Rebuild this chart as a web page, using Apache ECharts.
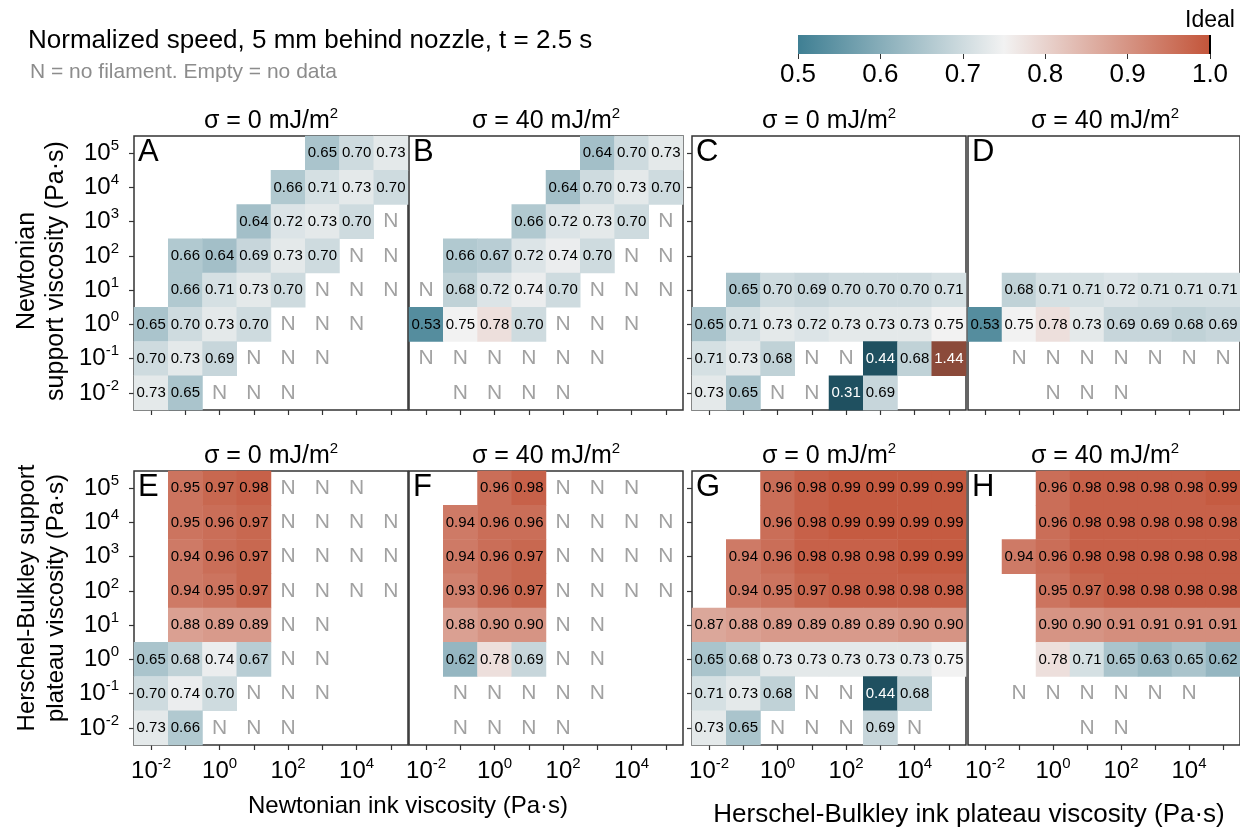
<!DOCTYPE html>
<html>
<head>
<meta charset="utf-8">
<script src="https://cdn.jsdelivr.net/npm/echarts@6/dist/echarts.min.js"></script>
<style>
html,body{margin:0;padding:0;background:#fff;}
#chart{width:1240px;height:827px;}
</style>
</head>
<body>
<div id="chart"></div>
<script>
const _ = null;
// exponents of the log10 viscosity categories (both axes)
const exponents = [-2, -1, 0, 1, 2, 3, 4, 5];
const colorbarTicks = [0.5, 0.6, 0.7, 0.8, 0.9, 1.0];

// rows listed top (support 10^5) to bottom (10^-2); columns ink 10^-2 .. 10^5
const panelA = [
  [_, _, _, _, _, 0.65, 0.70, 0.73],
  [_, _, _, _, 0.66, 0.71, 0.73, 0.70],
  [_, _, _, 0.64, 0.72, 0.73, 0.70, 'N'],
  [_, 0.66, 0.64, 0.69, 0.73, 0.70, 'N', 'N'],
  [_, 0.66, 0.71, 0.73, 0.70, 'N', 'N', 'N'],
  [0.65, 0.70, 0.73, 0.70, 'N', 'N', 'N', _],
  [0.70, 0.73, 0.69, 'N', 'N', 'N', _, _],
  [0.73, 0.65, 'N', 'N', 'N', _, _, _]
];
const panelB = [
  [_, _, _, _, _, 0.64, 0.70, 0.73],
  [_, _, _, _, 0.64, 0.70, 0.73, 0.70],
  [_, _, _, 0.66, 0.72, 0.73, 0.70, 'N'],
  [_, 0.66, 0.67, 0.72, 0.74, 0.70, 'N', 'N'],
  ['N', 0.68, 0.72, 0.74, 0.70, 'N', 'N', 'N'],
  [0.53, 0.75, 0.78, 0.70, 'N', 'N', 'N', _],
  ['N', 'N', 'N', 'N', 'N', 'N', _, _],
  [_, 'N', 'N', 'N', 'N', _, _, _]
];
const panelC = [
  [_, _, _, _, _, _, _, _],
  [_, _, _, _, _, _, _, _],
  [_, _, _, _, _, _, _, _],
  [_, _, _, _, _, _, _, _],
  [_, 0.65, 0.70, 0.69, 0.70, 0.70, 0.70, 0.71],
  [0.65, 0.71, 0.73, 0.72, 0.73, 0.73, 0.73, 0.75],
  [0.71, 0.73, 0.68, 'N', 'N', 0.44, 0.68, 1.44],
  [0.73, 0.65, 'N', 'N', 0.31, 0.69, _, _]
];
const panelD = [
  [_, _, _, _, _, _, _, _],
  [_, _, _, _, _, _, _, _],
  [_, _, _, _, _, _, _, _],
  [_, _, _, _, _, _, _, _],
  [_, 0.68, 0.71, 0.71, 0.72, 0.71, 0.71, 0.71],
  [0.53, 0.75, 0.78, 0.73, 0.69, 0.69, 0.68, 0.69],
  [_, 'N', 'N', 'N', 'N', 'N', 'N', 'N'],
  [_, _, 'N', 'N', 'N', _, _, _]
];
const panelE = [
  [_, 0.95, 0.97, 0.98, 'N', 'N', 'N', _],
  [_, 0.95, 0.96, 0.97, 'N', 'N', 'N', 'N'],
  [_, 0.94, 0.96, 0.97, 'N', 'N', 'N', 'N'],
  [_, 0.94, 0.95, 0.97, 'N', 'N', 'N', 'N'],
  [_, 0.88, 0.89, 0.89, 'N', 'N', _, _],
  [0.65, 0.68, 0.74, 0.67, 'N', 'N', _, _],
  [0.70, 0.74, 0.70, 'N', 'N', 'N', _, _],
  [0.73, 0.66, 'N', 'N', 'N', _, _, _]
];
const panelF = [
  [_, _, 0.96, 0.98, 'N', 'N', 'N', _],
  [_, 0.94, 0.96, 0.96, 'N', 'N', 'N', 'N'],
  [_, 0.94, 0.96, 0.97, 'N', 'N', 'N', 'N'],
  [_, 0.93, 0.96, 0.97, 'N', 'N', 'N', 'N'],
  [_, 0.88, 0.90, 0.90, 'N', 'N', _, _],
  [_, 0.62, 0.78, 0.69, 'N', 'N', _, _],
  [_, 'N', 'N', 'N', 'N', 'N', _, _],
  [_, 'N', 'N', 'N', 'N', _, _, _]
];
const panelG = [
  [_, _, 0.96, 0.98, 0.99, 0.99, 0.99, 0.99],
  [_, _, 0.96, 0.98, 0.99, 0.99, 0.99, 0.99],
  [_, 0.94, 0.96, 0.98, 0.98, 0.98, 0.99, 0.99],
  [_, 0.94, 0.95, 0.97, 0.98, 0.98, 0.98, 0.98],
  [0.87, 0.88, 0.89, 0.89, 0.89, 0.89, 0.90, 0.90],
  [0.65, 0.68, 0.73, 0.73, 0.73, 0.73, 0.73, 0.75],
  [0.71, 0.73, 0.68, 'N', 'N', 0.44, 0.68, _],
  [0.73, 0.65, 'N', 'N', 'N', 0.69, 'N', _]
];
const panelH = [
  [_, _, 0.96, 0.98, 0.98, 0.98, 0.98, 0.99],
  [_, _, 0.96, 0.98, 0.98, 0.98, 0.98, 0.98],
  [_, 0.94, 0.96, 0.98, 0.98, 0.98, 0.98, 0.98],
  [_, _, 0.95, 0.97, 0.98, 0.98, 0.98, 0.98],
  [_, _, 0.90, 0.90, 0.91, 0.91, 0.91, 0.91],
  [_, _, 0.78, 0.71, 0.65, 0.63, 0.65, 0.62],
  [_, 'N', 'N', 'N', 'N', 'N', 'N', _],
  [_, _, _, 'N', 'N', _, _, _]
];

const panelLetters = ['A', 'B', 'C', 'D', 'E', 'F', 'G', 'H'];
const panelSigma = ['0', '40', '0', '40', '0', '40', '0', '40'];
const panelData = [panelA, panelB, panelC, panelD, panelE, panelF, panelG, panelH];

// ---- styling / layout ----
const FONT = '"Liberation Sans", Arial, Helvetica, sans-serif';
const LOW = [63, 127, 147], MID = [242, 242, 242], HIGH = [195, 85, 58];
const UNDER = [31, 80, 96], OVER = [139, 74, 58];
const lefts = [134, 409, 692, 968];
const tops = [136, 471];
const SIZE = 274;

function rgb(c) { return 'rgb(' + c.map(Math.round).join(',') + ')'; }
function mix(a, b, t) { return a.map((v, i) => v + (b[i] - v) * t); }
function paletteColor(v) {
  if (v < 0.5 - 1e-9) return rgb(UNDER);
  if (v > 1.0 + 1e-9) return rgb(OVER);
  if (v <= 0.75) return rgb(mix(LOW, MID, (v - 0.5) / 0.25));
  return rgb(mix(MID, HIGH, (v - 0.75) / 0.25));
}
const VMIN = 0.30, VMAX = 1.45, STEP = 0.05;
const stops = [];
for (let k = 0; k <= Math.round((VMAX - VMIN) / STEP); k++) stops.push(paletteColor(VMIN + k * STEP));

const supRich = {
  b: { fontSize: 24, lineHeight: 30, fontFamily: FONT, color: '#000' },
  s: { fontSize: 15, lineHeight: 15, fontFamily: FONT, color: '#000', verticalAlign: 'top' }
};
const expFmt = v => '{b|10}{s|' + v + '}';

const grids = [], xAxes = [], yAxes = [], series = [], graphics = [];
const heatIdx = [];

panelData.forEach((mat, p) => {
  const col = p % 4, row = Math.floor(p / 4);
  const left = lefts[col], top = tops[row];
  grids.push({ left: left, top: top, width: (col === 3 ? SIZE - 2 : SIZE), height: SIZE,
    show: true, borderColor: '#333', borderWidth: 1.5, backgroundColor: 'transparent', containLabel: false });
  const cats = exponents.map(String);
  xAxes.push({
    type: 'category', gridIndex: p, data: cats,
    axisLine: { show: false },
    axisTick: { show: true, alignWithLabel: true, interval: 0, length: 5, lineStyle: { color: '#333', width: 1.2 } },
    axisLabel: { show: row === 1, interval: 1, formatter: expFmt, rich: supRich, margin: 11 },
    splitLine: { show: false }
  });
  yAxes.push({
    type: 'category', gridIndex: p, data: cats,
    axisLine: { show: false },
    axisTick: { show: col === 0 || col === 2, alignWithLabel: true, interval: 0, length: 5, lineStyle: { color: '#333', width: 1.2 } },
    axisLabel: { show: col === 0, interval: 0, formatter: expFmt, rich: supRich, margin: 15 },
    splitLine: { show: false }
  });
  const heat = [], ns = [];
  mat.forEach((r, ri) => {
    const yi = exponents.length - 1 - ri;
    r.forEach((v, xi) => {
      if (v === null) return;
      if (v === 'N') { ns.push([xi, yi]); return; }
      const item = { value: [xi, yi, v] };
      if (v < 0.5 || v > 1.0) item.label = { color: '#fff' };
      heat.push(item);
    });
  });
  heatIdx.push(series.length);
  series.push({
    type: 'heatmap', xAxisIndex: p, yAxisIndex: p, data: heat,
    itemStyle: { borderWidth: 0 },
    label: { show: true, formatter: q => q.value[2].toFixed(2), fontSize: 15, fontFamily: FONT, color: '#000' },
    emphasis: { disabled: true }
  });
  series.push({
    type: 'scatter', xAxisIndex: p, yAxisIndex: p, data: ns, symbolSize: 1,
    itemStyle: { color: 'rgba(0,0,0,0)' },
    label: { show: true, position: 'inside', formatter: 'N', fontSize: 21, fontFamily: FONT, color: '#8a8a8a' },
    silent: true
  });
  // panel letter
  graphics.push({ type: 'text', left: left + 4, top: top + 1,
    style: { text: panelLetters[p], fontSize: 31, fontFamily: FONT, fill: '#000' } });
  // panel title
  graphics.push({ type: 'text', x: left + SIZE / 2, y: top - 15,
    style: { text: '{b|σ = ' + panelSigma[p] + ' mJ/m}{s|2}', x: 0, y: 0,
      align: 'center', verticalAlign: 'middle', textAlign: 'center', textVerticalAlign: 'middle',
      rich: { b: { fontSize: 25, lineHeight: 30, fontFamily: FONT, fill: '#000' },
              s: { fontSize: 15, lineHeight: 15, fontFamily: FONT, fill: '#000', verticalAlign: 'top' } } } });
});

// colorbar grid
const cbIndex = panelData.length;
grids.push({ left: 798, top: 35, width: 412, height: 19, show: true, borderWidth: 0,
  backgroundColor: { type: 'linear', x: 0, y: 0, x2: 1, y2: 0,
    colorStops: [{ offset: 0, color: rgb(LOW) }, { offset: 0.5, color: rgb(MID) }, { offset: 1, color: rgb(HIGH) }] } });
xAxes.push({ type: 'value', gridIndex: cbIndex, min: colorbarTicks[0], max: colorbarTicks[colorbarTicks.length - 1], interval: 0.1,
  axisLine: { show: false }, splitLine: { show: false },
  axisTick: { show: true, length: 5, lineStyle: { color: '#333' } },
  axisLabel: { fontSize: 26, fontFamily: FONT, color: '#000', margin: 8, formatter: v => v.toFixed(1) } });
yAxes.push({ type: 'value', gridIndex: cbIndex, min: 0, max: 1, show: false });
series.push({ type: 'line', xAxisIndex: cbIndex, yAxisIndex: cbIndex, data: [], silent: true,
  markLine: { symbol: 'none', silent: true, animation: false,
    data: [{ xAxis: 1.0 }],
    lineStyle: { color: '#000', width: 2, type: 'solid' },
    label: { show: true, position: 'end', formatter: 'Ideal', fontSize: 23, fontFamily: FONT, color: '#000', distance: 3 } } });

// titles and axis names
graphics.push({ type: 'text', left: 28, top: 28,
  style: { text: 'Normalized speed, 5 mm behind nozzle, t = 2.5 s', fontSize: 26, fontFamily: FONT, fill: '#000' } });
graphics.push({ type: 'text', left: 30, top: 62,
  style: { text: 'N = no filament. Empty = no data', fontSize: 21, fontFamily: FONT, fill: '#8c8c8c' } });
graphics.push({ type: 'text', x: 42, y: 271, rotation: Math.PI / 2,
  style: { text: 'Newtonian\nsupport viscosity (Pa·s)', x: 0, y: 0, fontSize: 25, lineHeight: 29, fontFamily: FONT, fill: '#000',
    align: 'center', verticalAlign: 'middle', textAlign: 'center', textVerticalAlign: 'middle' } });
graphics.push({ type: 'text', x: 42, y: 598, rotation: Math.PI / 2,
  style: { text: 'Herschel-Bulkley support\nplateau viscosity (Pa·s)', x: 0, y: 0, fontSize: 24, lineHeight: 29, fontFamily: FONT, fill: '#000',
    align: 'center', verticalAlign: 'middle', textAlign: 'center', textVerticalAlign: 'middle' } });
graphics.push({ type: 'text', x: 408, y: 806,
  style: { text: 'Newtonian ink viscosity (Pa·s)', x: 0, y: 0, fontSize: 24, fontFamily: FONT, fill: '#000',
    align: 'center', verticalAlign: 'middle', textAlign: 'center', textVerticalAlign: 'middle' } });
graphics.push({ type: 'text', x: 969, y: 815,
  style: { text: 'Herschel-Bulkley ink plateau viscosity (Pa·s)', x: 0, y: 0, fontSize: 26, fontFamily: FONT, fill: '#000',
    align: 'center', verticalAlign: 'middle', textAlign: 'center', textVerticalAlign: 'middle' } });

const chart = echarts.init(document.getElementById('chart'), null, { renderer: 'canvas' });
chart.setOption({
  animation: false,
  backgroundColor: '#fff',
  textStyle: { fontFamily: FONT },
  grid: grids,
  xAxis: xAxes,
  yAxis: yAxes,
  visualMap: [{ type: 'continuous', show: false, min: VMIN, max: VMAX, seriesIndex: heatIdx, dimension: 2,
    inRange: { color: stops } }],
  series: series,
  graphic: graphics
});
</script>
</body>
</html>
